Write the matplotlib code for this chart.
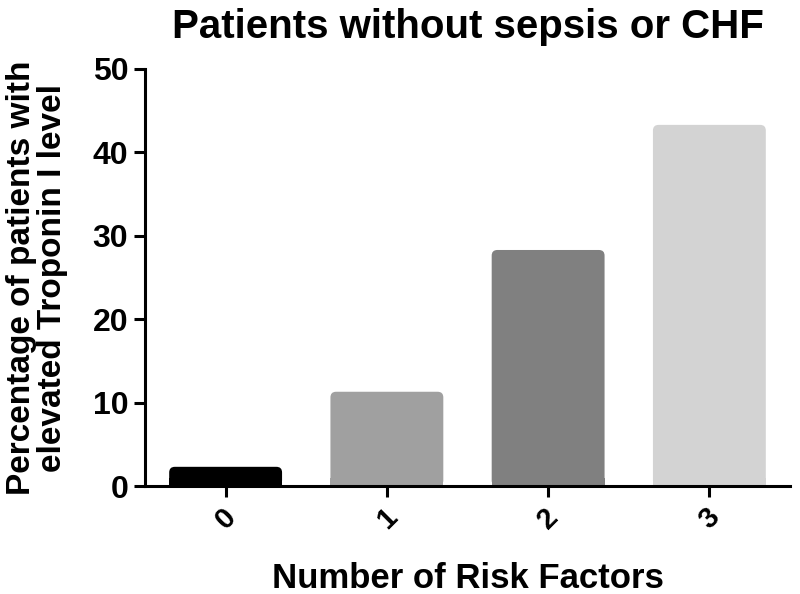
import matplotlib
matplotlib.use("Agg")
import matplotlib.pyplot as plt
from matplotlib.patches import FancyBboxPatch

categories = ["0", "1", "2", "3"]
values = [2.3, 11.3, 28.3, 43.3]
colors = ["#000000", "#a0a0a0", "#808080", "#d3d3d3"]
title = "Patients without sepsis or CHF"
xlabel = "Number of Risk Factors"
ylabel = "Percentage of patients with\nelevated Troponin I level"

plt.rcParams['font.family'] = ['Liberation Sans', 'DejaVu Sans']
plt.rcParams['font.weight'] = 'bold'

fig = plt.figure(figsize=(8, 5.94), dpi=100)
ax = fig.add_axes([145/800, 1-486/594, (790-145)/800, (486-69)/594])

ax.set_xlim(-0.5, 3.5)
ax.set_ylim(0, 50)

x = list(range(len(categories)))
bars = ax.bar(x, values, width=0.70, color=colors, edgecolor='none')

# rounded top corners like the reference
ax_w_px = (790 - 145)
ax_h_px = (486 - 69)
aspect = (50 / ax_h_px) / (4.0 / ax_w_px)
for rect in bars:
    rx, ry = rect.get_x(), rect.get_y()
    rw, rh = rect.get_width(), rect.get_height()
    fb = FancyBboxPatch((rx, ry), rw, rh,
                        boxstyle="round,pad=0,rounding_size=0.035",
                        mutation_aspect=aspect,
                        facecolor=rect.get_facecolor(), edgecolor='none')
    ax.add_patch(fb)
    # square off the bottom corners
    ax.add_patch(plt.Rectangle((rx, ry), rw, min(rh, 1.0),
                               facecolor=rect.get_facecolor(), edgecolor='none'))
    rect.set_visible(False)

ax.set_yticks([0, 10, 20, 30, 40, 50])
ax.set_xticks(x)
ax.set_xticklabels(categories, rotation=45, ha='center', va='top',
                   fontsize=21, fontweight='bold')
for lab in ax.get_yticklabels():
    lab.set_fontsize(23)
    lab.set_fontweight('bold')

for s in ['top', 'right']:
    ax.spines[s].set_visible(False)
for s in ['left', 'bottom']:
    ax.spines[s].set_linewidth(2.2)
    ax.spines[s].set_zorder(5)
ax.tick_params(axis='both', width=2.2, length=8, direction='out', pad=4)

ax.set_title(title, fontsize=29, fontweight='bold', pad=22)
ax.set_xlabel(xlabel, fontsize=25, fontweight='bold', labelpad=20)
ax.set_ylabel(ylabel, fontsize=24, fontweight='bold', labelpad=18, linespacing=1.0)

fig.savefig("out.png", dpi=100)
